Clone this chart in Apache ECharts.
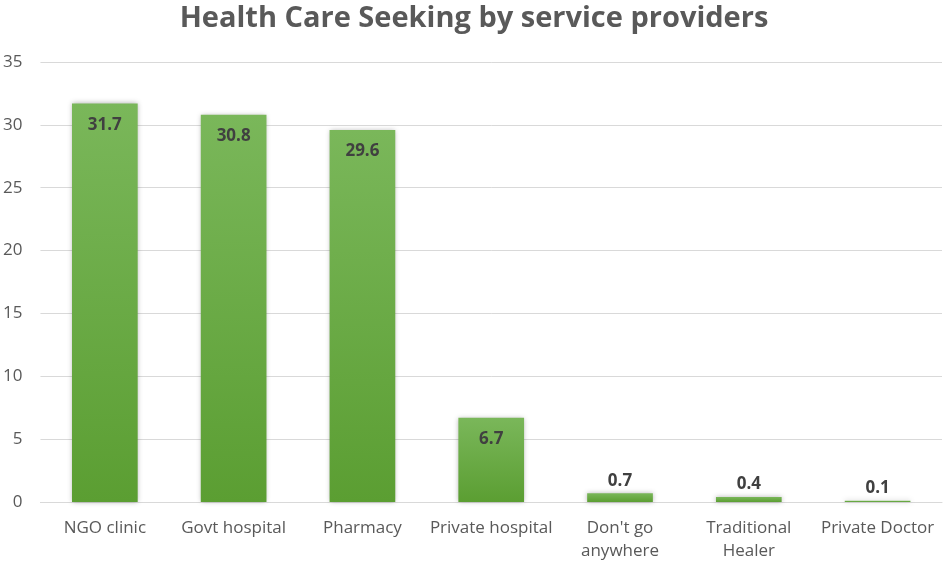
<!DOCTYPE html>
<html>
<head>
<meta charset="utf-8">
<style>
    html, body {margin:0;padding:0;background:#fff;}
    #chart {width:948px;height:563px;}
</style>
<script src="https://cdn.jsdelivr.net/npm/echarts@6/dist/echarts.min.js"></script>
</head>
<body>
<div id="chart"></div>
<script>
var categories = ['NGO clinic', 'Govt hospital', 'Pharmacy', 'Private hospital', "Don't go\nanywhere", 'Traditional\nHealer', 'Private Doctor'];
var values = [31.7, 30.8, 29.6, 6.7, 0.7, 0.4, 0.1];
var yTicks = [0, 5, 10, 15, 20, 25, 30, 35];

// tall bars get the label inside, short ones above
var barData = values.map(function(v){
    var inside = v > 3;
    return {
        value: v,
        label: {
            position: inside ? 'insideTop' : 'top',
            distance: inside ? 13 : 4
        }
    };
});

var option = {
    animation: false,
    title: {
        text: 'Health Care Seeking by service providers',
        left: 'center',
        top: -1,
        textStyle: {fontFamily: 'Open Sans', fontSize: 29, fontWeight: 'bold', color: '#595959'}
    },
    grid: {left: 40, right: 6, top: 62, bottom: 61},
    xAxis: {
        type: 'category',
        data: categories,
        axisTick: {show: false},
        axisLine: {lineStyle: {color: '#d9d9d9', width: 1}},
        axisLabel: {fontFamily: 'Open Sans', fontSize: 17, color: '#595959', margin: 15, lineHeight: 23, interval: 0}
    },
    yAxis: {
        type: 'value',
        min: yTicks[0],
        max: yTicks[yTicks.length - 1],
        interval: 5,
        axisLine: {show: false},
        axisTick: {show: false},
        splitLine: {lineStyle: {color: '#d9d9d9'}},
        axisLabel: {fontFamily: 'Open Sans', fontSize: 17, color: '#595959', margin: 18}
    },
    series: [{
        type: 'bar',
        data: barData,
        barWidth: '51%',
        itemStyle: {
            color: new echarts.graphic.LinearGradient(0, 0, 0, 1, [
                {offset: 0, color: '#7ab75a'},
                {offset: 1, color: '#5b9e32'}
            ]),
            shadowColor: 'rgba(0,0,0,0.3)',
            shadowBlur: 5
        },
        label: {
            show: true,
            fontFamily: 'Open Sans',
            fontSize: 17,
            fontWeight: 'bold',
            color: '#404040'
        }
    }]
};

echarts.init(document.getElementById('chart')).setOption(option);
</script>
</body>
</html>
